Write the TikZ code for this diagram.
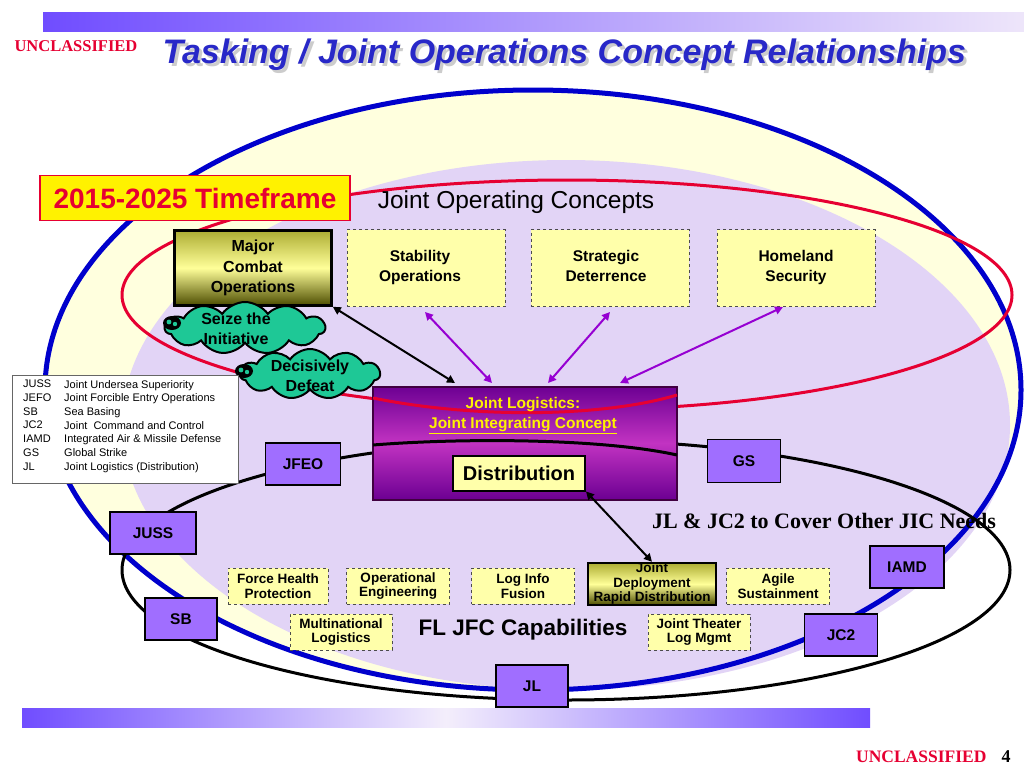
\documentclass[tikz,border=0pt]{standalone}
\usepackage{fontspec}
\setmainfont{Liberation Sans}
\newfontfamily\serifx{Liberation Serif}
\usetikzlibrary{shapes.symbols,arrows.meta}
\definecolor{lav}{RGB}{226,212,246}
\definecolor{ylw}{RGB}{255,255,222}
\definecolor{boxy}{RGB}{255,255,170}
\definecolor{tag}{RGB}{160,110,255}
\definecolor{teal}{RGB}{30,200,150}
\definecolor{ttl}{RGB}{40,40,200}
\definecolor{ured}{RGB}{230,0,50}
\definecolor{arrp}{RGB}{150,0,210}
\begin{document}
\begin{tikzpicture}[x=1pt,y=-1pt,
  dbox/.style={draw=black!70,dashed,fill=boxy,thick,inner sep=0pt},
  lbl/.style={font=\bfseries\fontsize{15.5}{20}\selectfont,align=center,inner sep=0pt},
  capb/.style={draw=black!70,dashed,fill=boxy,thick,font=\bfseries\fontsize{13.5}{14.5}\selectfont,align=center,inner sep=0pt},
  tagb/.style={draw=black,line width=1.5pt,fill=tag,font=\bfseries\fontsize{15.5}{16}\selectfont,inner sep=0pt},
  cld/.style={cloud,cloud puffs=11,cloud puff arc=110,aspect=3,draw=black,line width=2pt,fill=teal,inner sep=0pt},
  cldt/.style={font=\bfseries\fontsize{16}{20}\selectfont,align=center,inner sep=0pt},
  dark/.style={draw=black,line width=2.5pt,top color=black!40!yellow!80!white,bottom color=black!70!yellow,middle color=yellow!40,align=center,inner sep=0pt},
  parr/.style={arrp,line width=2pt,{Triangle[length=8pt,width=8pt]}-{Triangle[length=8pt,width=8pt]}},
  barr/.style={black,line width=2pt,{Triangle[length=8pt,width=8pt]}-{Triangle[length=8pt,width=8pt]}}]
\useasboundingbox (0,0) rectangle (1024,768);
\fill[white] (0,0) rectangle (1024,768);
% bars
\shade[left color=tag!70!blue,right color=lav!60] (43,13) rectangle (1024,32);
\shade[left color=tag!70!blue,right color=tag!70!blue,middle color=lav!40] (22,708) rectangle (870,727);
\node[text=ured,font=\serifx\bfseries\fontsize{16.5}{16}\selectfont] (u1) at (76,46) {UNCLASSIFIED};
\node[text=black!20,font=\bfseries\itshape\fontsize{34}{34}\selectfont,anchor=west] (titles) at (162,58) {Tasking / Joint Operations Concept Relationships};
\node[text=ttl,font=\bfseries\itshape\fontsize{34}{34}\selectfont,anchor=west] (title) at (159,55) {Tasking / Joint Operations Concept Relationships};
\node[text=ured,font=\serifx\bfseries\fontsize{17.5}{16}\selectfont,anchor=east] (u2) at (990,757) {UNCLASSIFIED};
\node[font=\serifx\bfseries\fontsize{18}{16}\selectfont] (pg) at (1006,757) {4};
% ellipses
\fill[ylw] (533,390) ellipse [x radius=488,y radius=300];
\fill[lav] (566,425) ellipse [x radius=444,y radius=265];
\draw[blue!80!black,line width=5pt] (533,390) ellipse [x radius=488,y radius=300];
\draw[ured,line width=3pt] (567,295) ellipse [x radius=445,y radius=115];
\draw[black,line width=3pt] (566,570) ellipse [x radius=444,y radius=130];
% top
\node[draw=ured,line width=1.5pt,fill=yellow,text=ured,font=\bfseries\fontsize{28}{28}\selectfont,minimum width=310,minimum height=45] (tf) at (195,198) {2015-2025 Timeframe};
\node[font=\fontsize{24.5}{24}\selectfont] (joc) at (516,202) {Joint Operating Concepts};
\node[dark,minimum width=157,minimum height=75,font=\bfseries\fontsize{16}{20.5}\selectfont] (mco) at (253,268) {Major\\Combat\\Operations};
\node[dbox,minimum width=158,minimum height=77] (so) at (426,268) {};
\node[dbox,minimum width=158,minimum height=77] (sd) at (610,268) {};
\node[dbox,minimum width=158,minimum height=77] (hs) at (796,268) {};
\node[lbl] (sot) at (420,267) {Stability\\Operations};
\node[lbl] (sdt) at (606,266) {Strategic\\Deterrence};
\node[lbl] (hst) at (796,267) {Homeland\\Security};
\node[cld,minimum width=160,minimum height=52] (c1) at (245,328) {};
\node[cldt] (c1t) at (236,329) {Seize the\\Initiative};
\node[cld,minimum width=140,minimum height=50] (c2) at (310,374) {};
\node[cldt] (c2t) at (310,376) {Decisively\\Defeat};
\foreach \x/\y in {172/323,244/371}{
  \fill[black] (\x,\y) ellipse [x radius=9,y radius=7];
  \fill[teal] (\x-3,\y-1) circle (2.4); \fill[teal] (\x+3,\y+1) circle (2.2);}
% legend
\node[draw=black!60,fill=white,minimum width=226,minimum height=108,anchor=north west,inner sep=0pt] (leg) at (12,375) {};
\node[anchor=north west,font=\fontsize{11}{13.7}\selectfont,align=left,inner sep=0pt] (legt) at (23,380)
{JUSS\\JEFO\\SB\\JC2\\IAMD\\GS\\JL};
\node[anchor=north west,font=\fontsize{11}{13.7}\selectfont,align=left,inner sep=0pt] (legd) at (64,380)
{Joint Undersea Superiority\\Joint Forcible Entry Operations\\Sea Basing\\Joint\ \ Command and Control\\Integrated Air \& Missile Defense\\Global Strike\\Joint Logistics (Distribution)};
% JL box
\node[draw=black!50!violet,line width=2pt,top color=violet!85!blue,bottom color=violet!85!blue,middle color=violet!60!magenta!80!white,minimum width=304,minimum height=113] (jl) at (525,443) {};
\draw[ured,line width=3pt] (373,398) .. controls (470,418) and (600,418) .. (677,395);
\draw[black,line width=3pt] (373,445) .. controls (460,438) and (600,438) .. (677,455);
\node[text=yellow,font=\bfseries\fontsize{15.5}{20}\selectfont,align=center] (jlt) at (523,416) {Joint Logistics:\\\underline{Joint Integrating Concept}};
\node[draw=black,line width=2pt,fill=boxy,font=\bfseries\fontsize{20}{20}\selectfont,minimum width=132,minimum height=35,inner sep=0pt] (dist) at (519,473) {Distribution};
% tags
\node[tagb,minimum width=75,minimum height=42] (jfeo) at (303,464) {JFEO};
\node[tagb,minimum width=73,minimum height=43] (gs) at (744,461) {GS};
\node[tagb,minimum width=86,minimum height=42] (juss) at (153,533) {JUSS};
\node[tagb,minimum width=74,minimum height=42] (iamd) at (907,567) {IAMD};
\node[tagb,minimum width=72,minimum height=42] (sb) at (181,619) {SB};
\node[tagb,minimum width=73,minimum height=42] (jc2) at (841,635) {JC2};
\node[tagb,minimum width=72,minimum height=42] (jlb) at (532,686) {JL};
\node[font=\serifx\bfseries\fontsize{22}{22}\selectfont] (jlneed) at (824,521) {JL \& JC2 to Cover Other JIC Needs};
% capabilities
\node[capb,minimum width=100,minimum height=36] (fhp) at (278,586) {Force Health\\Protection};
\node[capb,minimum width=103,minimum height=36] (oe) at (398,586) {Operational\\Engineering};
\node[capb,minimum width=103,minimum height=36] (lif) at (523,586) {Log Info\\Fusion};
\node[dark,minimum width=128,minimum height=42,font=\bfseries\fontsize{13.5}{14.5}\selectfont] (jd) at (652,584) {Joint\\Deployment\\Rapid Distribution};
\node[capb,minimum width=103,minimum height=36] (as) at (778,586) {Agile\\Sustainment};
\node[capb,minimum width=102,minimum height=36] (ml) at (341,632) {Multinational\\Logistics};
\node[capb,minimum width=102,minimum height=36] (jtl) at (699,632) {Joint Theater\\Log Mgmt};
\node[font=\bfseries\fontsize{22.5}{22}\selectfont] (fl) at (523,630) {FL JFC Capabilities};
% arrows
\draw[barr] (mco.south east) -- (455,383);
\draw[parr] (425,312) -- (492,383);
\draw[parr] (610,312) -- (548,383);
\draw[parr] (783,307) -- (620,383);
\draw[barr] (dist.south east) -- (jd.north);
\end{tikzpicture}
\end{document}
